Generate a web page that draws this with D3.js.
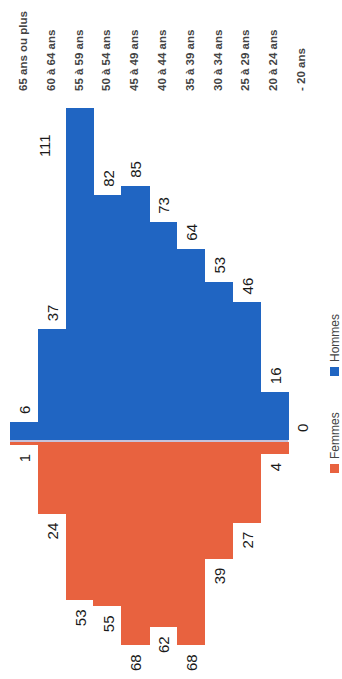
<!DOCTYPE html>
<html>
<head>
<meta charset="utf-8">
<script src="https://cdn.jsdelivr.net/npm/d3@7"></script>
<style>
  html, body { margin: 0; padding: 0; background: #fff; }
  svg { display: block; }
</style>
</head>
<body>
<svg id="chart" width="342" height="679"></svg>
<script>
// Pyramide des âges : hommes vers le haut, femmes vers le bas
const categories = ["65 ans ou plus", "60 à 64 ans", "55 à 59 ans", "50 à 54 ans", "45 à 49 ans",
  "40 à 44 ans", "35 à 39 ans", "30 à 34 ans", "25 à 29 ans", "20 à 24 ans", "- 20 ans"];
const hommes = [6, 37, 111, 82, 85, 73, 64, 53, 46, 16, 0];
const femmes = [1, 24, 53, 55, 68, 62, 68, 39, 27, 4, null];
const seriesNames = ["Femmes", "Hommes"];

const colors = { Hommes: "#2065c2", Femmes: "#e8623f" };

const svg = d3.select("#chart");

const x = d3.scaleBand().domain(categories).range([10, 316]).padding(0);
const h = d3.scaleLinear().domain([0, 120]).range([0, 358.8]);
const axisY = 440;   // bas des barres hommes
const gapY = 442;    // haut des barres femmes

// Barres hommes
svg.append("g").attr("shape-rendering", "crispEdges").selectAll("rect")
  .data(categories.map((c, i) => ({ c, v: hommes[i] })))
  .join("rect")
  .attr("x", d => x(d.c))
  .attr("width", x.bandwidth() + 0.5)
  .attr("y", d => axisY - h(d.v))
  .attr("height", d => h(d.v))
  .attr("fill", colors.Hommes);

// Barres femmes
svg.append("g").attr("shape-rendering", "crispEdges").selectAll("rect")
  .data(categories.map((c, i) => ({ c, v: femmes[i] || 0 })))
  .join("rect")
  .attr("x", d => x(d.c))
  .attr("width", x.bandwidth() + 0.5)
  .attr("y", gapY)
  .attr("height", d => h(d.v))
  .attr("fill", colors.Femmes);

// Ligne de séparation
const lastIdx = d3.max(categories.map((c, i) => (hommes[i] > 0 || femmes[i] > 0) ? i : -1));
svg.append("line")
  .attr("x1", x(categories[0]))
  .attr("x2", x(categories[lastIdx]) + x.bandwidth())
  .attr("y1", 441).attr("y2", 441)
  .attr("stroke", "#c6c2da").attr("stroke-width", 2);

const labelFont = "'Liberation Sans', Arial, sans-serif";

// Étiquettes hommes (au-dessus des barres)
const maxH = d3.max(hommes);
svg.append("g").selectAll("text")
  .data(categories.map((c, i) => ({ c, v: hommes[i] })))
  .join("text")
  .attr("transform", d => {
    const cx = x(d.c) + x.bandwidth() / 2;
    if (d.v === maxH) {
      // la plus haute barre : étiquette placée à côté
      return `translate(${cx - 35},${axisY - h(d.v) + 49}) rotate(-90)`;
    }
    return `translate(${cx + 1},${axisY - h(d.v) - 8}) rotate(-90)`;
  })
  .attr("dy", "0.35em")
  .attr("text-anchor", "start")
  .attr("font-family", labelFont)
  .attr("font-size", 15)
  .attr("fill", "#1a1a1a")
  .text(d => d.v);

// Étiquettes femmes (sous les barres)
svg.append("g").selectAll("text")
  .data(categories.map((c, i) => ({ c, v: femmes[i] })).filter(d => d.v !== null))
  .join("text")
  .attr("transform", d => `translate(${x(d.c) + x.bandwidth() / 2 + 1},${gapY + h(d.v) + 9}) rotate(-90)`)
  .attr("dy", "0.35em")
  .attr("text-anchor", "end")
  .attr("font-family", labelFont)
  .attr("font-size", 15)
  .attr("fill", "#1a1a1a")
  .text(d => d.v);

// Libellés des tranches d'âge
svg.append("g").selectAll("text")
  .data(categories)
  .join("text")
  .attr("transform", d => `translate(${x(d) + x.bandwidth() / 2 - 1},91) rotate(-90)`)
  .attr("dy", "0.35em")
  .attr("text-anchor", "start")
  .attr("font-family", labelFont)
  .attr("font-size", 11.5)
  .attr("font-weight", "bold")
  .attr("fill", "#444")
  .text(d => d);

// Légende
const legendPos = { Hommes: 376, Femmes: 473 };
const legend = svg.append("g");
seriesNames.forEach(name => {
  const y0 = legendPos[name];
  legend.append("rect")
    .attr("x", 330).attr("y", y0 - 9)
    .attr("width", 9).attr("height", 9)
    .attr("fill", colors[name]);
  legend.append("text")
    .attr("transform", `translate(339,${y0 - 14}) rotate(-90)`)
    .attr("text-anchor", "start")
    .attr("font-family", labelFont)
    .attr("font-size", 12)
    .attr("fill", "#444")
    .text(name);
});
</script>
</body>
</html>
